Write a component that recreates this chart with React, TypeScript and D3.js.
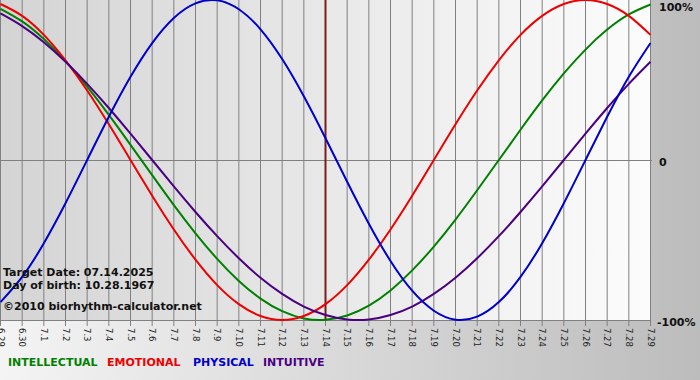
import React from "react";
import * as d3 from "d3";

const dayLabels = ["6.29","6.30","7.1","7.2","7.3","7.4","7.5","7.6","7.7","7.8","7.9","7.10","7.11","7.12","7.13","7.14","7.15","7.16","7.17","7.18","7.19","7.20","7.21","7.22","7.23","7.24","7.25","7.26","7.27","7.28","7.29"];

const intellectual = [94.5,86.6,75.6,61.8,45.8,28.2,9.5,-9.5,-28.2,-45.8,-61.8,-75.6,-86.6,-94.5,-99.0,-99.9,-97.2,-91.0,-81.5,-69.0,-54.1,-37.2,-18.9,0,18.9,37.2,54.1,69.0,81.5,91.0,97.2];
const emotional = [97.5,90.1,78.2,62.3,43.4,22.3,0,-22.3,-43.4,-62.3,-78.2,-90.1,-97.5,-100,-97.5,-90.1,-78.2,-62.3,-43.4,-22.3,0,22.3,43.4,62.3,78.2,90.1,97.5,100,97.5,90.1,78.2];
const physical = [-88.8,-73.1,-52.0,-27.0,0,27.0,52.0,73.1,88.8,97.9,99.8,94.2,81.7,63.1,39.8,13.6,-13.6,-39.8,-63.1,-81.7,-94.2,-99.8,-97.9,-88.8,-73.1,-52.0,-27.0,0,27.0,52.0,73.1];
const intuitive = [91.6,83.7,73.6,61.4,47.6,32.5,16.5,0,-16.5,-32.5,-47.6,-61.4,-73.6,-83.7,-91.6,-96.9,-99.7,-99.7,-96.9,-91.6,-83.7,-73.6,-61.4,-47.6,-32.5,-16.5,0,16.5,32.5,47.6,61.4];

const seriesNames = ["INTELLECTUAL", "EMOTIONAL", "PHYSICAL", "INTUITIVE"];
const yTickLabels = ["100%", "0", "-100%"];
const yTickValues = [100, 0, -100];
const targetLabel = "7.14";
const infoLines = ["Target Date: 07.14.2025", "Day of birth: 10.28.1967", "\u00A92010 biorhythm-calculator.net"];

const W = 700, H = 380;
const PL = 0.5, PR = 650.5, PB = 320.5;

export default function App() {
  const x = d3.scaleLinear().domain([0, dayLabels.length - 1]).range([PL, PR]);
  const y = d3.scaleLinear().domain([-100, 100]).range([320, 0]);
  const line = d3.line<number>().x((_, i) => x(i)).y((d) => y(d)).curve(d3.curveNatural);

  const series = [
    { name: seriesNames[0], data: intellectual, color: "#008000" },
    { name: seriesNames[1], data: emotional, color: "#ee0000" },
    { name: seriesNames[3], data: intuitive, color: "#4b0082" },
    { name: seriesNames[2], data: physical, color: "#0000cc" },
  ];
  const legend = [
    { name: seriesNames[0], color: "#008000", x: 8 },
    { name: seriesNames[1], color: "#ee0000", x: 107 },
    { name: seriesNames[2], color: "#0000cc", x: 193 },
    { name: seriesNames[3], color: "#4b0082", x: 263 },
  ];
  const ti = dayLabels.indexOf(targetLabel);
  const font = "'DejaVu Sans', Verdana, sans-serif";

  return (
    <svg width={W} height={H} style={{ position: "absolute", left: 0, top: 0 }} fontFamily={font}>
      <defs>
        <linearGradient id="bg" x1="0" y1="0" x2="1" y2="0">
          <stop offset="0" stopColor="#f4f4f4" />
          <stop offset="1" stopColor="#bcbcbc" />
        </linearGradient>
        <linearGradient id="plotbg" x1="0" y1="0" x2="1" y2="0">
          <stop offset="0" stopColor="#d4d4d4" />
          <stop offset="1" stopColor="#fcfcfc" />
        </linearGradient>
        <clipPath id="clip">
          <rect x={0} y={0} width={PR + 1} height={322} />
        </clipPath>
      </defs>
      <rect x={0} y={0} width={W} height={H} fill="url(#bg)" />
      <rect x={0} y={0} width={PR} height={PB} fill="url(#plotbg)" />
      {dayLabels.map((d, i) => (
        <line key={"g" + i} x1={x(i)} x2={x(i)} y1={0} y2={326} stroke="#808080" strokeWidth={1} />
      ))}
      <line x1={0} x2={652} y1={y(0) + 0.5} y2={y(0) + 0.5} stroke="#808080" />
      <line x1={0} x2={651} y1={PB} y2={PB} stroke="#808080" />
      <line x1={x(ti)} x2={x(ti)} y1={0} y2={PB} stroke="#7a1c1c" strokeWidth={2} />
      <g clipPath="url(#clip)">
        {series.map((s) => (
          <path key={s.name} d={line(s.data) || ""} fill="none" stroke={s.color} strokeWidth={2} />
        ))}
      </g>
      {dayLabels.map((d, i) => (
        <text key={"t" + i} transform={`translate(${x(i)},328) rotate(90)`} dy="0.35em" fontSize={8.5} fill="#222">{d}</text>
      ))}
      {yTickValues.map((v, i) => (
        <text key={"y" + i} x={v < 0 ? 657 : 659} y={v === 100 ? 11 : v === 0 ? 166 : 326} fontSize={11} fontWeight="bold" fill="#111">{yTickLabels[i]}</text>
      ))}
      {infoLines.map((t, i) => (
        <text key={"i" + i} x={3} y={[276, 289, 310][i]} fontSize={11} fontWeight="bold" fill="#111">{t}</text>
      ))}
      {legend.map((l) => (
        <text key={"l" + l.name} x={l.x} y={366} fontSize={11} fontWeight="bold" fill={l.color}>{l.name}</text>
      ))}
    </svg>
  );
}
